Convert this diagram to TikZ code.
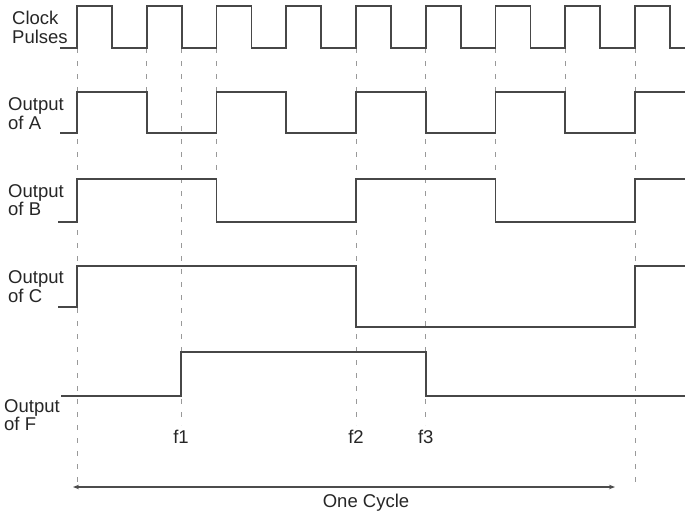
\documentclass[tikz,border=0pt]{standalone}
\usepackage{fontspec}
\setmainfont{Liberation Sans}
\usetikzlibrary{arrows.meta}
\begin{document}
\begin{tikzpicture}[x=1pt,y=-1pt,
  sig/.style={line width=1.7pt, draw=black!72, line join=miter},
  guide/.style={draw=black!40, line width=0.9pt, dash pattern=on 5pt off 8pt},
  lbl/.style={inner sep=0pt, anchor=base west, font=\fontsize{18.5}{20}\selectfont, text=black!85},
  flbl/.style={inner sep=0pt, anchor=base, font=\fontsize{18.5}{20}\selectfont, text=black!85},
  cyc/.style={draw=black!70, line width=1.2pt, {Stealth[length=6pt,width=4.5pt]}-{Stealth[length=6pt,width=4.5pt]}}]
\useasboundingbox (0,0) rectangle (685,515);

% guide lines
\foreach \x/\y in {77/487, 146.75/92, 181/425, 216.5/179, 356/425, 425.75/425, 495.5/179, 565.25/92, 635/487}
  \draw[guide] (\x,48) -- (\x,\y);

% clock
\draw[sig] (60,48) -- (77,48) -- (77,6) -- (112,6) -- (112,48)
  -- (146.75,48) -- (146.75,6) -- (181.75,6) -- (181.75,48)
  -- (216.5,48) -- (216.5,6) -- (251.5,6) -- (251.5,48)
  -- (286.25,48) -- (286.25,6) -- (321.25,6) -- (321.25,48)
  -- (356,48) -- (356,6) -- (391,6) -- (391,48)
  -- (425.75,48) -- (425.75,6) -- (460.75,6) -- (460.75,48)
  -- (495.5,48) -- (495.5,6) -- (530.5,6) -- (530.5,48)
  -- (565.25,48) -- (565.25,6) -- (600.25,6) -- (600.25,48)
  -- (635,48) -- (635,6) -- (670,6) -- (670,48) -- (685,48);

% output A
\draw[sig] (60,133) -- (77,133) -- (77,92) -- (146.75,92) -- (146.75,133)
  -- (216.5,133) -- (216.5,92) -- (286.25,92) -- (286.25,133)
  -- (356,133) -- (356,92) -- (425.75,92) -- (425.75,133)
  -- (495.5,133) -- (495.5,92) -- (565.25,92) -- (565.25,133)
  -- (635,133) -- (635,92) -- (685,92);

% output B
\draw[sig] (58,222) -- (77,222) -- (77,179) -- (216.5,179) -- (216.5,222)
  -- (356,222) -- (356,179) -- (495.5,179) -- (495.5,222)
  -- (635,222) -- (635,179) -- (685,179);

% output C
\draw[sig] (58,307) -- (77,307) -- (77,266) -- (356,266) -- (356,327)
  -- (635,327) -- (635,266) -- (685,266);

% output F
\draw[sig] (61,396) -- (181,396) -- (181,352) -- (425.75,352) -- (425.75,396) -- (685,396);

% labels
\node[lbl] (clk1) at (12,24) {Clock};
\node[lbl] (clk2) at (12,43) {Pulses};
\node[lbl] (a1) at (8,110) {Output};
\node[lbl] (a2) at (8,129) {of A};
\node[lbl] (b1) at (8,197) {Output};
\node[lbl] (b2) at (8,215) {of B};
\node[lbl] (c1) at (8,283) {Output};
\node[lbl] (c2) at (8,302) {of C};
\node[lbl] (f1l) at (4,412) {Output};
\node[lbl] (f2l) at (4,430) {of F};

\node[flbl] (t1) at (181,443) {f1};
\node[flbl] (t2) at (356,443) {f2};
\node[flbl] (t3) at (425.75,443) {f3};

% one cycle
\coordinate (cycL) at (73,487);
\coordinate (cycR) at (615,487);
\draw[cyc] (cycL) -- (cycR);
\node[flbl] (oc) at (366,507) {One Cycle};
\end{tikzpicture}
\end{document}
